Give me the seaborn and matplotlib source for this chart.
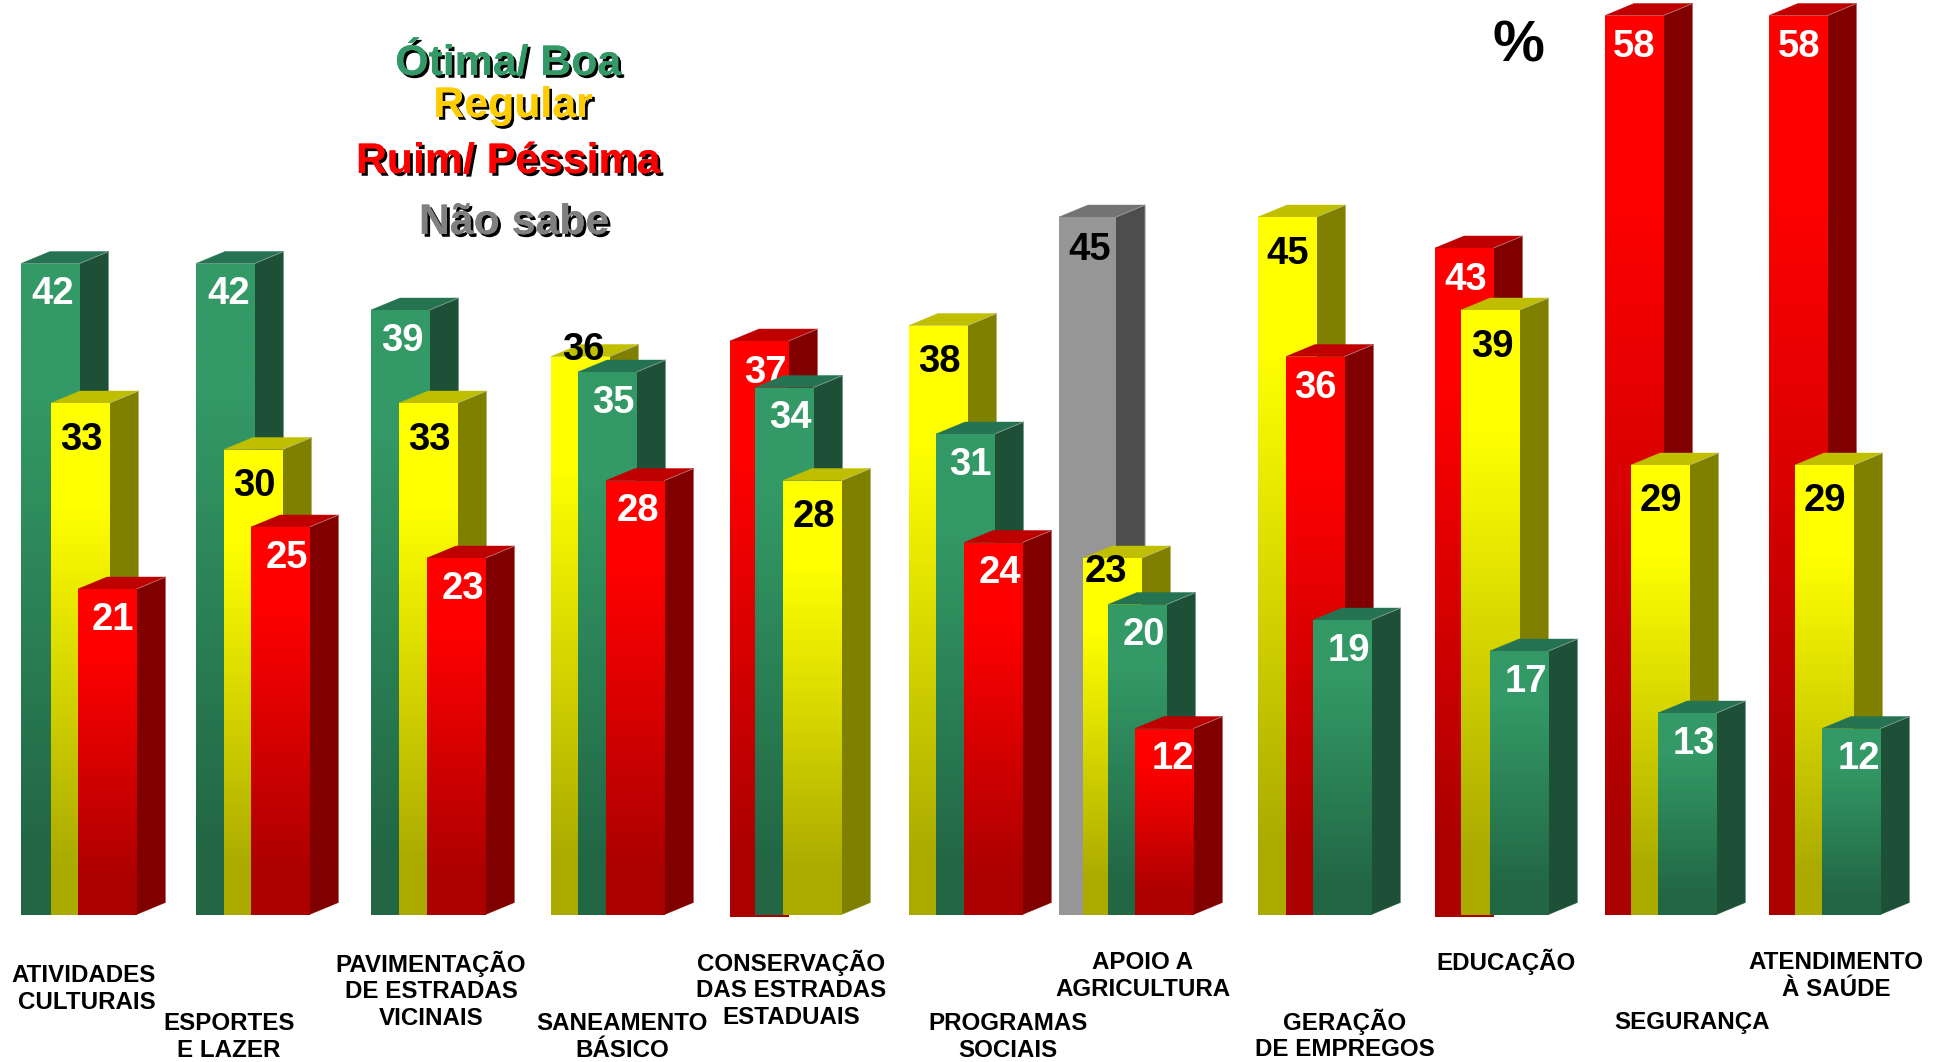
import numpy as np
import pandas as pd
import matplotlib
matplotlib.use("Agg")
import matplotlib.pyplot as plt
import matplotlib.patheffects as pe
from matplotlib.patches import Polygon
from matplotlib.colors import to_rgb
import seaborn as sns

# ---------- data ----------
SERIES = ["Ótima/ Boa", "Regular", "Ruim/ Péssima", "Não sabe"]
CATEGORIES = ["ATIVIDADES\nCULTURAIS", "ESPORTES\nE LAZER", "PAVIMENTAÇÃO\nDE ESTRADAS\nVICINAIS",
              "SANEAMENTO\nBÁSICO", "CONSERVAÇÃO\nDAS ESTRADAS\nESTADUAIS", "PROGRAMAS\nSOCIAIS",
              "APOIO A\nAGRICULTURA", "GERAÇÃO\nDE EMPREGOS", "EDUCAÇÃO", "SEGURANÇA",
              "ATENDIMENTO\nÀ SAÚDE"]
OTIMA_BOA = [42, 42, 39, 35, 34, 31, 20, 19, 17, 13, 12]
REGULAR = [33, 30, 33, 36, 28, 38, 23, 45, 39, 29, 29]
RUIM_PESSIMA = [21, 25, 23, 28, 37, 24, 12, 36, 43, 58, 58]
NAO_SABE = [None, None, None, None, None, None, 45, None, None, None, None]

# ---------- layout (full-size pixels) ----------
W, H = 1945, 1062
BASE_PX = 914.5
PX_PER_UNIT = 15.5
BAR_W, DEPTH_X, DEPTH_Y = 58.5, 29, 12
# drawing order of the bars in each category and the left edge of each bar
ORDER = [[0, 1, 2], [0, 1, 2], [0, 1, 2], [1, 0, 2], [2, 0, 1], [1, 0, 2],
         [3, 1, 0, 2], [1, 2, 0], [2, 1, 0], [2, 1, 0], [2, 1, 0]]
LEFTS = [[21, 51, 78], [196, 224, 251], [371, 399, 427], [551, 578, 606], [730, 755, 783],
         [909, 936, 964], [1059, 1083, 1108, 1135], [1258, 1286, 1313], [1435, 1461, 1490],
         [1605, 1631, 1658], [1769, 1795, 1822]]
LOW_BARS = {(4, 2), (8, 2)}          # red bars whose foot sits just below the axis
LABEL_S = 1945 / 1568
LABEL_XY = [[(42, 234), (65, 352), (91, 497)], [(184, 234), (205, 389), (231, 447)],
            [(324, 272), (346, 352), (373, 472)], [(470, 279), (494, 322), (514, 409)],
            [(617, 298), (637, 334), (656, 414)], [(757, 289), (782, 372), (806, 459)],
            [(878, 199), (891, 458), (922, 509), (945, 609)],
            [(1038, 202), (1060, 310), (1087, 522)], [(1181, 223), (1203, 277), (1230, 547)],
            [(1317, 35), (1339, 401), (1365, 597)], [(1450, 35), (1471, 401), (1498, 609)]]
LABEL_NUDGE = (0.3, 3.5)
CAT_POS = [(156, 989, "right"), (229, 1037, "center"), (431, 990, "center"), (622, 1037, "center"),
           (791, 989, "center"), (1008, 1037, "center"), (1143, 976, "center"), (1345, 1035, "center"),
           (1506, 962, "center"), (1692, 1023, "center"), (1836, 976, "center")]
FRONT = {0: "#339966", 1: "#FFFF00", 2: "#FF0000", 3: "#969696"}
TOP = {0: "#267352", 1: "#BFBF00", 2: "#BF0000", 3: "#737373"}
SIDE = {0: "#1D5037", 1: "#808000", 2: "#800000", 3: "#4D4D4D"}
TEXT_C = {0: "white", 1: "black", 2: "white", 3: "black"}
LEGEND = [("Ótima/ Boa", 508, 75, "#339966"), ("Regular", 513, 117, "#FFCC00"),
          ("Ruim/ Péssima", 508, 173, "#FF0000"), ("Não sabe", 514, 234, "#808080")]

sns.set_theme(style="white")
plt.rcParams["font.family"] = ["Liberation Sans", "DejaVu Sans"]
plt.rcParams["font.weight"] = "bold"

values = [OTIMA_BOA, REGULAR, RUIM_PESSIMA, NAO_SABE]
rows = []
for c, (order, lefts, xy) in enumerate(zip(ORDER, LEFTS, LABEL_XY)):
    for s, left, lab in zip(order, lefts, xy):
        rows.append(dict(cat=c, s=s, series=SERIES[s], value=values[s][c],
                         pos=left + BAR_W / 2,
                         lx=lab[0] * LABEL_S + LABEL_NUDGE[0], ly=lab[1] * LABEL_S + LABEL_NUDGE[1]))
df = pd.DataFrame(rows)

fig = plt.figure(figsize=(W / 100, H / 100), dpi=100, facecolor="white")
ax = fig.add_axes([0, 0, 1, 1])
min_gap = np.diff(np.sort(df["pos"].unique())).min()
sns.barplot(data=df, x="pos", y="value", hue="series", hue_order=SERIES,
            palette=[FRONT[i] for i in range(4)], native_scale=True, dodge=False,
            width=BAR_W / min_gap, saturation=1, legend=False, linewidth=0, ax=ax)
xlim = (0, W)
ylim = ((BASE_PX - H) / PX_PER_UNIT, BASE_PX / PX_PER_UNIT)
ax.set_xlim(xlim)
ax.set_ylim(ylim)
ax.axis("off")


def lighter(col, t=0.45):
    rgb = np.array(to_rgb(col))
    return tuple(rgb + (1 - rgb) * t)


dy = DEPTH_Y / PX_PER_UNIT
ramp = np.linspace(0, 1, 256)
shade = 1 - 0.33 * np.clip((ramp - 0.2) / 0.7, 0, 1)
bars = sorted([p for p in ax.patches if p.get_height() > 0], key=lambda p: p.get_x())
df = df.sort_values("pos").reset_index(drop=True)
for k, (patch, row) in enumerate(zip(bars, df.itertuples())):
    z = 3 + k
    x0, w, v = patch.get_x(), patch.get_width(), patch.get_height()
    if row.s == 3:
        w -= 1.5
        patch.set_width(w)
    foot = -0.13 if (row.cat, row.s) in LOW_BARS else 0
    patch.set_y(foot)
    patch.set_height(v - foot)
    patch.set_zorder(z)
    ax.add_patch(Polygon([(x0 + w, v), (x0 + w + DEPTH_X, v + dy), (x0 + w + DEPTH_X, dy), (x0 + w, 0)],
                         fc=SIDE[row.s], ec=SIDE[row.s], lw=0.3, zorder=z - 0.2))
    ax.add_patch(Polygon([(x0, v), (x0 + DEPTH_X, v + dy), (x0 + w + DEPTH_X, v + dy), (x0 + w, v)],
                         fc=TOP[row.s], ec=TOP[row.s], lw=0.3, zorder=z - 0.1))
    ax.plot([x0 + w, x0 + w + DEPTH_X, x0 + w + DEPTH_X], [v, v + dy, dy], color=lighter(SIDE[row.s]),
            lw=0.6, solid_joinstyle="miter", zorder=z - 0.05)
    if row.s != 3:
        rgb = np.array(to_rgb(FRONT[row.s]))
        img = (shade[:, None] * rgb[None, :])[:, None, :]
        im = ax.imshow(img, extent=(x0, x0 + w, foot, v), aspect="auto", origin="upper",
                       interpolation="bilinear", zorder=z + 0.1)
        im.set_clip_path(patch)
    ax.text(row.lx, (BASE_PX - row.ly) / PX_PER_UNIT, str(row.value), color=TEXT_C[row.s],
            fontsize=27.5, fontweight="bold", ha="center", va="center", zorder=z + 0.5)
ax.set_xlim(xlim)
ax.set_ylim(ylim)

for label, (cx, cy, ha) in zip(CATEGORIES, CAT_POS):
    ax.text(cx, (BASE_PX - cy) / PX_PER_UNIT, label, color="black", fontsize=17.4, fontweight="bold",
            ha=ha, va="center", multialignment=ha, linespacing=1.19, zorder=100)
for label, cx, by, col in LEGEND:
    ax.text(cx, (BASE_PX - by) / PX_PER_UNIT, label, color=col, fontsize=30.8, fontweight="bold",
            ha="center", va="baseline", zorder=100,
            path_effects=[pe.withSimplePatchShadow(offset=(2, -2), shadow_rgbFace="black", alpha=1), pe.Normal()])
ax.text(1518, (BASE_PX - 62) / PX_PER_UNIT, "%", color="black", fontsize=42, fontweight="bold",
        ha="center", va="baseline", zorder=100)

fig.savefig("out.png", dpi=100, facecolor="white")
